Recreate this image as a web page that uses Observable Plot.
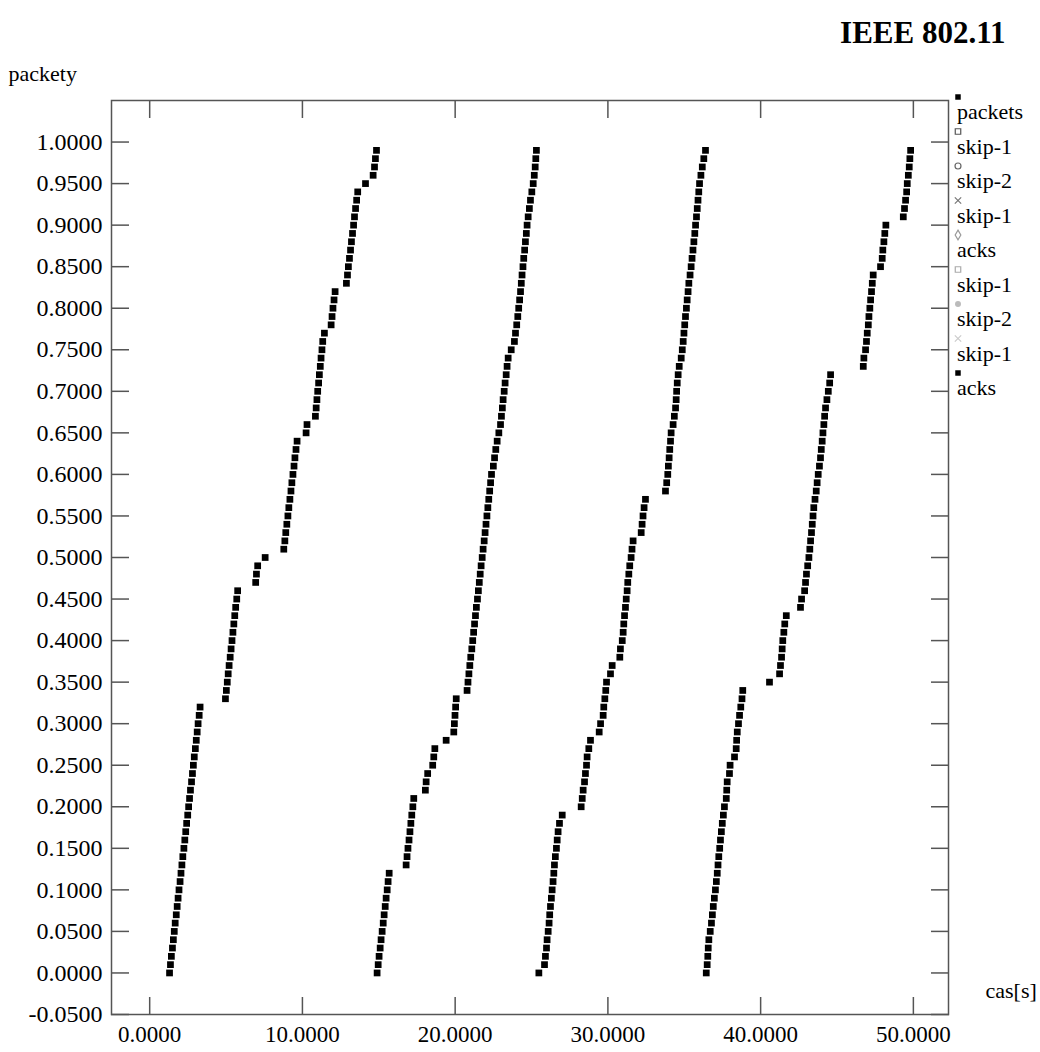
<!DOCTYPE html>
<html><head><meta charset="utf-8">
<script src="https://cdn.jsdelivr.net/npm/d3@7"></script>
<script src="https://cdn.jsdelivr.net/npm/@observablehq/plot@0.6"></script>
<style>body{margin:0;background:#fff;} #chart svg{display:block}</style>
</head><body><div id="chart"></div>
<script>
// sequence fraction (packet number / 100) of each packet in a cycle
const packetLevels = [
0.00,0.01,0.02,0.03,0.04,0.05,0.06,0.07,0.08,0.09,0.10,0.11,0.12,0.13,0.14,0.15,0.16,0.17,0.18,0.19,
0.20,0.21,0.22,0.23,0.24,0.25,0.26,0.27,0.28,0.29,0.30,0.31,0.32,0.33,0.34,0.35,0.36,0.37,0.38,0.39,
0.40,0.41,0.42,0.43,0.44,0.45,0.46,0.47,0.48,0.49,0.50,0.51,0.52,0.53,0.54,0.55,0.56,0.57,0.58,0.59,
0.60,0.61,0.62,0.63,0.64,0.65,0.66,0.67,0.68,0.69,0.70,0.71,0.72,0.73,0.74,0.75,0.76,0.77,0.78,0.79,
0.80,0.81,0.82,0.83,0.84,0.85,0.86,0.87,0.88,0.89,0.90,0.91,0.92,0.93,0.94,0.95,0.96,0.97,0.98,0.99];

// send times [s] of the packets, one array per cycle
const cycle1Times = [
1.30,1.36,1.42,1.49,1.55,1.61,1.67,1.74,1.80,1.86,1.92,1.99,2.05,2.11,2.17,2.24,2.30,2.36,2.42,2.49,
2.55,2.61,2.67,2.74,2.80,2.86,2.92,2.99,3.05,3.11,3.17,3.24,3.30,
4.96,5.02,5.08,5.14,5.20,5.27,5.33,5.39,5.45,5.51,5.57,5.63,5.70,5.76,
6.94,6.99,7.07,7.56,
8.78,8.85,8.91,8.98,9.05,9.11,9.18,9.25,9.31,9.38,9.45,9.51,9.58,9.65,
10.24,10.30,
10.85,10.90,10.95,11.00,11.06,11.11,11.17,11.22,11.28,11.33,11.44,
11.88,11.94,12.00,12.07,12.14,
12.88,12.95,13.01,13.08,13.15,13.21,13.28,13.35,13.41,13.48,13.55,13.62,
14.13,14.63,14.72,14.78,14.85];

const cycle2Times = [
14.89,14.96,15.02,15.09,15.15,15.22,15.29,15.35,15.42,15.48,15.55,15.61,15.68,
16.79,16.85,16.91,16.98,17.04,17.10,17.16,17.23,17.29,
18.05,18.10,18.20,18.53,18.60,18.67,19.41,
19.91,19.95,19.99,20.03,20.07,
20.78,20.84,20.90,20.96,21.02,21.09,21.15,21.21,21.27,21.33,21.39,21.46,21.52,21.58,21.64,21.70,
21.77,21.83,21.90,21.96,22.02,22.08,22.14,22.20,22.26,22.32,22.38,22.50,22.58,22.66,22.75,22.86,
22.97,23.03,23.09,23.14,23.21,23.27,23.34,23.40,23.47,23.67,23.88,23.95,24.03,24.10,24.16,24.22,
24.28,24.33,24.38,24.44,24.49,24.55,24.60,24.66,24.71,24.78,24.86,24.93,25.02,25.11,25.18,25.24,
25.28,25.32];

const cycle3Times = [
25.48,
25.85,25.91,25.98,26.02,26.09,26.15,26.19,26.24,26.30,26.35,26.41,26.46,26.50,26.56,26.63,26.68,26.74,26.83,27.01,
28.25,28.32,28.38,28.47,28.53,28.60,28.64,28.75,28.86,
29.43,29.52,29.69,29.73,29.80,29.86,29.91,
30.17,30.28,
30.78,30.82,30.94,31.00,31.04,31.09,31.15,31.20,31.26,31.30,31.37,31.43,31.52,31.58,31.65,
32.18,32.24,32.30,32.37,32.46,
33.77,33.85,33.92,33.96,34.01,34.05,34.10,34.14,34.27,34.35,34.43,34.47,34.50,34.54,34.60,34.67,
34.80,34.87,34.93,34.98,35.03,35.08,35.14,35.19,35.25,35.30,35.38,35.45,35.51,35.57,35.63,35.69,
35.74,35.80,35.85,35.90,35.95,36.00,36.09,36.18,36.28,36.39];

const cycle4Times = [
36.44,36.50,36.54,36.57,36.61,36.70,36.78,36.84,36.90,36.97,37.04,37.10,37.16,37.21,37.26,37.32,
37.37,37.43,37.49,37.56,37.63,37.75,37.78,37.81,37.96,38.00,38.29,38.40,38.43,38.47,38.55,38.62,
38.70,38.78,38.83,
40.58,
41.24,41.30,41.37,41.41,41.45,41.52,41.58,41.68,
42.61,42.68,42.88,42.94,43.00,43.08,43.16,43.22,43.27,43.33,43.38,43.43,43.48,43.56,43.64,43.70,
43.77,43.85,43.92,43.97,44.03,44.08,44.14,44.19,44.25,44.34,44.43,44.52,44.58,
46.72,46.76,46.87,46.93,46.98,47.05,47.09,47.15,47.20,47.26,47.31,47.37,
47.85,47.96,48.00,48.07,48.13,48.20,
49.34,49.42,49.49,49.56,49.60,49.67,49.73,49.77,49.82];

const xTicks = [0, 10, 20, 30, 40, 50];
const yTicks = [-0.05,0,0.05,0.10,0.15,0.20,0.25,0.30,0.35,0.40,0.45,0.50,0.55,0.60,0.65,0.70,0.75,0.80,0.85,0.90,0.95,1.00];

const legendLabels = ["packets","skip-1","skip-2","skip-1","acks","skip-1","skip-2","skip-1","acks"];
const legendSymbols = ["square","square","circle","times","diamond","square","circle","times","square"];
const legendFilled = [true,false,false,false,false,false,true,false,true];
const legendColors = ["#000","#555","#666","#777","#999","#aaa","#bbb","#ccc","#000"];

const titleText = "IEEE 802.11";
const yLabel = "packety";
const xLabel = "cas[s]";

const data = [];
[cycle1Times, cycle2Times, cycle3Times, cycle4Times].forEach(times =>
  times.forEach((t, i) => data.push({time: t, seq: packetLevels[i]})));

const serif = "'Liberation Serif', 'Times New Roman', Times, serif";
const fmt = d => d.toFixed(4);
const axisStroke = "#555";

const chart = Plot.plot({
  width: 1040, height: 1052,
  marginLeft: 111, marginRight: 92, marginTop: 100, marginBottom: 38,
  style: {fontFamily: serif, fontSize: "22px", color: "#000", background: "#fff", overflow: "hidden"},
  x: {domain: [-2.5, 52.3], label: null},
  y: {domain: [-0.05, 1.05], label: null},
  marks: [
    Plot.frame({stroke: axisStroke, strokeWidth: 1.5}),
    Plot.axisY(yTicks, {anchor: "left", tickSize: -18, tickPadding: 27, tickFormat: fmt, stroke: axisStroke, strokeWidth: 1.5, fill: "#000", fontSize: 24, label: null}),
    Plot.axisY(yTicks, {anchor: "right", tickSize: -18, tickFormat: () => "", stroke: axisStroke, strokeWidth: 1.5, label: null}),
    Plot.axisX(xTicks, {anchor: "bottom", tickSize: -17, tickPadding: 28, tickFormat: fmt, stroke: axisStroke, strokeWidth: 1.5, fill: "#000", fontSize: 23, label: null}),
    Plot.axisX(xTicks, {anchor: "top", tickSize: -17, tickFormat: () => "", stroke: axisStroke, strokeWidth: 1.5, label: null}),
    Plot.dot(data, {x: "time", y: "seq", symbol: "square", r: 3.8, fill: "#000"}),
    Plot.text([titleText], {text: d => d, frameAnchor: "top-right", dx: 57, dy: -67, lineAnchor: "middle", textAnchor: "end", fontWeight: "bold", fontSize: 31}),
    Plot.text([yLabel], {text: d => d, frameAnchor: "top-left", dx: -103, dy: -27, lineAnchor: "middle", textAnchor: "start", fontSize: 22}),
    Plot.text([xLabel], {text: d => d, frameAnchor: "bottom-right", dx: 37, dy: -24, lineAnchor: "middle", textAnchor: "start", fontSize: 22})
  ]
});

// legend on the right of the frame
const svg = d3.select(chart);
const lg = svg.append("g").attr("font-family", serif).attr("font-size", 22).attr("text-anchor", "start");
const symMap = {square: d3.symbolSquare, circle: d3.symbolCircle, times: d3.symbolTimes, diamond: d3.symbolDiamond};
legendLabels.forEach((lab, i) => {
  const y0 = 97 + i * 34.5;
  const filled = legendFilled[i];
  lg.append("path")
    .attr("transform", `translate(958,${y0})`)
    .attr("d", d3.symbol(symMap[legendSymbols[i]], legendSymbols[i] === "square" ? 30 : 28)())
    .attr("fill", filled ? legendColors[i] : "none")
    .attr("stroke", legendColors[i])
    .attr("stroke-width", filled ? 0 : 1.2);
  lg.append("text").attr("x", 957).attr("y", y0 + 15).attr("dy", "0.32em").attr("text-anchor", "start").attr("fill", "#000").text(lab);
});

document.getElementById("chart").appendChild(chart);
</script>
</body></html>
